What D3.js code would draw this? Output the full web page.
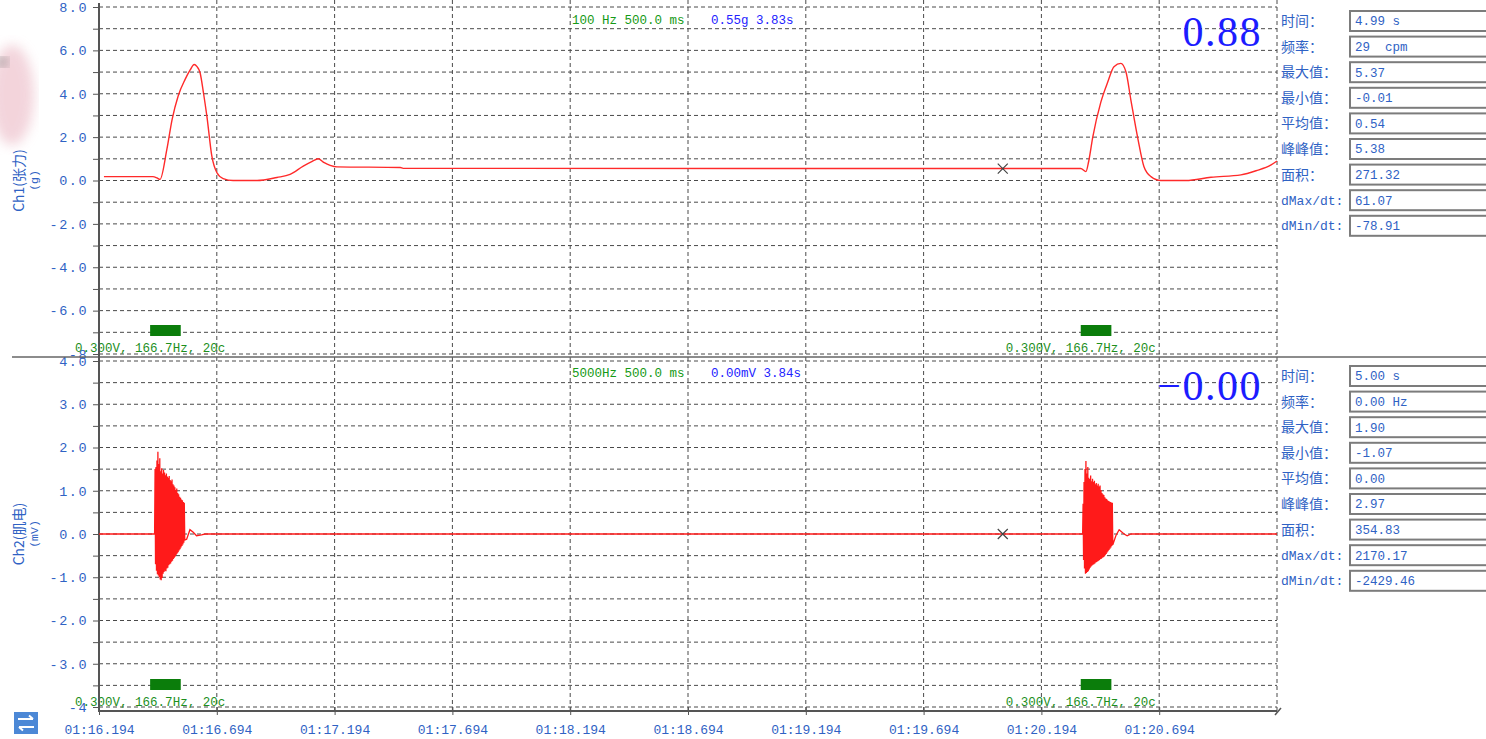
<!DOCTYPE html>
<html>
<head>
<meta charset="utf-8">
<script src="https://cdn.jsdelivr.net/npm/d3@7"></script>
<style>
  body { margin: 0; background: #fff; }
  svg { display: block; }
</style>
</head>
<body>
<div id="chart"></div>
<script>
// time axis, seconds after 01:16.194
var timeTicks = [0, 0.5, 1, 1.5, 2, 2.5, 3, 3.5, 4, 4.5];
var timeLabels = ["01:16.194", "01:16.694", "01:17.194", "01:17.694", "01:18.194",
                  "01:18.694", "01:19.194", "01:19.694", "01:20.194", "01:20.694"];

var ch1Ticks = [8, 6, 4, 2, 0, -2, -4, -6, -8];
var ch1TickLabels = ["8.0", "6.0", "4.0", "2.0", "0.0", "-2.0", "-4.0", "-6.0", "-8"];
var ch2Ticks = [4, 3, 2, 1, 0, -1, -2, -3, -4];
var ch2TickLabels = ["4.0", "3.0", "2.0", "1.0", "0.0", "-1.0", "-2.0", "-3.0", "-4"];

// Ch1 force (g)
var forceTime = [0.021, 0.229, 0.246, 0.259, 0.288, 0.310, 0.336, 0.365, 0.387, 0.404, 0.416, 0.429,
                 0.444, 0.458, 0.479, 0.500, 0.527, 0.569, 0.671, 0.755, 0.811, 0.867, 0.905, 0.930,
                 0.956, 0.981, 1.010, 1.279, 1.291, 4.167, 4.189, 4.201, 4.218, 4.252, 4.282, 4.308,
                 4.337, 4.359, 4.380, 4.410, 4.435, 4.465, 4.507, 4.613, 4.720, 4.847, 4.911, 4.975, 5.0];
var forceValue = [0.18, 0.18, 0.12, 0.05, 1.43, 2.8, 3.9, 4.65, 5.1, 5.35, 5.25, 4.97,
                  4.0, 2.96, 1.12, 0.37, 0.09, 0.0, 0.0, 0.14, 0.28, 0.66, 0.88, 1.0,
                  0.82, 0.70, 0.63, 0.60, 0.56, 0.55, 0.41, 0.9, 2.0, 3.6, 4.55, 5.25,
                  5.4, 5.0, 3.7, 1.9, 0.65, 0.18, 0.0, 0.0, 0.15, 0.26, 0.45, 0.72, 0.9];

// Ch2 EMG (mV): quiet baseline + after-ringing
var emgQuietTime = [0, 0.236, 0.372, 0.386, 0.400, 0.414, 0.435, 0.450,
                    4.175, 4.316, 4.330, 4.351, 4.364, 4.380, 5.0];
var emgQuietValue = [0, 0, -0.12, 0.10, 0.04, -0.04, -0.02, 0,
                     0, -0.04, 0.10, 0, -0.04, 0, 0];

// EMG bursts: peaks and troughs, one pair every 4 ms
var burstStart = [0.238, 4.177];
var burstHigh1 = [1.50, 1.55, 1.70, 1.90, 1.62, 1.75, 1.45, 1.52, 1.40, 1.48, 1.42, 1.36, 1.40, 1.33, 1.30, 1.34,
                  1.25, 1.22, 1.26, 1.15, 1.12, 1.08, 1.02, 1.05, 0.95, 0.92, 0.86, 0.84, 0.80, 0.78, 0.74, 0.72];
var burstLow1 = [-0.70, -0.85, -0.93, -0.96, -1.00, -1.05, -1.07, -1.02, -0.92, -0.88, -0.85, -0.86, -0.80, -0.78, -0.72, -0.70,
                 -0.68, -0.64, -0.62, -0.58, -0.55, -0.52, -0.48, -0.45, -0.42, -0.38, -0.35, -0.31, -0.28, -0.24, -0.20, -0.14];
var burstHigh2 = [0.70, 1.20, 1.50, 1.69, 1.40, 1.55, 1.30, 1.27, 1.35, 1.22, 1.28, 1.20, 1.23, 1.15, 1.18, 1.12,
                  1.16, 1.10, 1.12, 1.02, 0.95, 0.92, 0.90, 0.85, 0.82, 0.81, 0.78, 0.76, 0.75, 0.74, 0.73, 0.72];
var burstLow2 = [-0.60, -0.80, -0.92, -0.90, -0.88, -0.86, -0.82, -0.78, -0.75, -0.73, -0.71, -0.70, -0.68, -0.66, -0.65, -0.63,
                 -0.62, -0.60, -0.58, -0.57, -0.55, -0.54, -0.52, -0.49, -0.46, -0.43, -0.40, -0.37, -0.34, -0.31, -0.28, -0.25];

var stimTime = [0.217, 4.167];
var stimLength = 0.13;
var stimLabel = "0.300V, 166.7Hz, 20c";
var cursorTime = 3.836;
var cursorValues = [0.55, 0];

var statNames = ["时间：", "频率：", "最大值：", "最小值：", "平均值：", "峰峰值：", "面积：", "dMax/dt:", "dMin/dt:"];
var ch1StatValues = ["4.99 s", "29  cpm", "5.37", "-0.01", "0.54", "5.38", "271.32", "61.07", "-78.91"];
var ch2StatValues = ["5.00 s", "0.00 Hz", "1.90", "-1.07", "0.00", "2.97", "354.83", "2170.17", "-2429.46"];

var ch1Header = ["100 Hz 500.0 ms", "0.55g 3.83s"];
var ch2Header = ["5000Hz 500.0 ms", "0.00mV 3.84s"];
var bigValues = ["0.88", "\u22120.00"];

var width = 1486, height = 739;
var mono = "'Liberation Mono', 'DejaVu Sans Mono', monospace";
var cjk = "'Noto Sans CJK SC', sans-serif";
var blue = "#2f62c4";

var svg = d3.select("#chart").append("svg")
  .attr("width", width)
  .attr("height", height)
  .style("background", "#fff");

// smudge in top-left corner of the screenshot
var defs = svg.append("defs");
defs.append("filter").attr("id", "blur").append("feGaussianBlur").attr("stdDeviation", 6);
svg.append("ellipse").attr("cx", 12).attr("cy", 95).attr("rx", 22).attr("ry", 50)
  .attr("fill", "#eec3cd").attr("opacity", 0.7).attr("filter", "url(#blur)");
svg.append("ellipse").attr("cx", 2).attr("cy", 62).attr("rx", 6).attr("ry", 5)
  .attr("fill", "#555").attr("opacity", 0.6).attr("filter", "url(#blur)");

var x = d3.scaleLinear().domain([0, 5]).range([99, 1277]);

var panels = [
  { y: d3.scaleLinear().domain([-8, 8]).range([354, 7]), step: 1, ticks: ch1Ticks, labels: ch1TickLabels,
    title: "Ch1(张力)", unit: "(g)", top: 0, bottom: 357, header: ch1Header, big: bigValues[0],
    stats: ch1StatValues, statTop: 10, stimY: 325, stimTextY: 352 },
  { y: d3.scaleLinear().domain([-4, 4]).range([707, 361]), step: 0.5, ticks: ch2Ticks, labels: ch2TickLabels,
    title: "Ch2(肌电)", unit: "(mV)", top: 357, bottom: 711, header: ch2Header, big: bigValues[1],
    stats: ch2StatValues, statTop: 365, stimY: 679, stimTextY: 706 }
];

panels.forEach(function(p, pi) {
  var lo = p.y.domain()[0], hi = p.y.domain()[1];
  var grid = d3.range(lo, hi + p.step / 2, p.step);

  // horizontal dashed grid
  svg.append("g").selectAll("line").data(grid).enter().append("line")
    .attr("x1", 99).attr("x2", x(5))
    .attr("y1", function(d) { return p.y(d); })
    .attr("y2", function(d) { return p.y(d); })
    .attr("stroke", "#4a4a4a").attr("stroke-width", 1).attr("stroke-dasharray", "4,3");

  // vertical dashed grid
  svg.append("g").selectAll("line").data(timeTicks.slice(1).concat([5])).enter().append("line")
    .attr("x1", function(d) { return x(d); }).attr("x2", function(d) { return x(d); })
    .attr("y1", p.top).attr("y2", p.bottom)
    .attr("stroke", "#4a4a4a").attr("stroke-width", 1).attr("stroke-dasharray", "4,3");

  // y axis
  var yAxis = d3.axisLeft(p.y)
    .tickValues(grid)
    .tickSize(6)
    .tickPadding(5)
    .tickFormat(function(d) {
      var i = p.ticks.indexOf(d);
      return i >= 0 ? p.labels[i] : "";
    });
  var ya = svg.append("g").attr("transform", "translate(99,0)").call(yAxis);
  ya.select(".domain").remove();
  ya.selectAll(".tick line").attr("stroke", "#555");
  ya.selectAll(".tick text")
    .attr("fill", blue)
    .style("font-family", mono)
    .style("font-size", "13.5px")
    .style("letter-spacing", "1.5px");

  // channel title
  var tg = svg.append("g").attr("transform", "translate(19," + p.y(0) + ") rotate(-90)");
  tg.append("text").attr("text-anchor", "middle").attr("dy", "0.35em")
    .attr("fill", blue).style("font-family", cjk).style("font-size", "14px").text(p.title);
  tg.append("text").attr("text-anchor", "middle").attr("y", 15).attr("dy", "0.35em")
    .attr("fill", blue).style("font-family", mono).style("font-size", "11.5px").text(p.unit);

  // header
  svg.append("text").attr("x", 572).attr("y", p.top + (pi ? 16 : 20)).attr("dy", "0.35em")
    .attr("fill", "#169a16").style("font-family", mono).style("font-size", "12.5px")
    .attr("xml:space", "preserve").text(p.header[0]);
  svg.append("text").attr("x", 711).attr("y", p.top + (pi ? 16 : 20)).attr("dy", "0.35em")
    .attr("fill", "#2222ff").style("font-family", mono).style("font-size", "12.5px")
    .text(p.header[1]);

  // big readout
  svg.append("text").attr("x", 1262).attr("y", p.top + (pi ? 43 : 46))
    .attr("text-anchor", "end")
    .attr("fill", "#1c1cff").style("font-family", "'Liberation Serif', serif")
    .style("font-size", "42px").style("letter-spacing", "1.5px").text(p.big);

  // stimulus markers
  svg.append("g").selectAll("rect").data(stimTime).enter().append("rect")
    .attr("x", function(d) { return x(d); })
    .attr("width", function(d) { return x(d + stimLength) - x(d); })
    .attr("y", p.stimY).attr("height", 11)
    .attr("fill", "#0b7d0b");
  svg.append("g").selectAll("text").data(stimTime).enter().append("text")
    .attr("x", function(d) { return x(d); })
    .attr("y", p.stimTextY)
    .attr("text-anchor", "middle")
    .attr("fill", "#1d8f1d").style("font-family", mono).style("font-size", "12.5px")
    .text(stimLabel);

  // stats panel
  var rows = svg.append("g").selectAll("g").data(statNames).enter().append("g")
    .attr("transform", function(d, i) { return "translate(0," + (p.statTop + i * 25.6) + ")"; });
  rows.append("text").attr("x", 1281).attr("y", 11).attr("dy", "0.35em")
    .attr("fill", blue)
    .style("font-family", function(d) { return /^d/.test(d) ? mono : cjk; })
    .style("font-size", function(d) { return /^d/.test(d) ? "13px" : "14px"; })
    .text(function(d) { return d; });
  rows.append("rect").attr("x", 1350).attr("y", 1).attr("width", 140).attr("height", 20)
    .attr("fill", "#fff").attr("stroke", "#7c7c7c").attr("stroke-width", 2);
  rows.append("text").attr("x", 1355).attr("y", 11).attr("dy", "0.35em")
    .attr("fill", blue).style("font-family", mono).style("font-size", "12.5px")
    .attr("xml:space", "preserve")
    .text(function(d, i) { return p.stats[i]; });
});

// separator and axes lines
svg.append("line").attr("x1", 12).attr("x2", width).attr("y1", 357).attr("y2", 357)
  .attr("stroke", "#666").attr("stroke-width", 1.5);
svg.append("line").attr("x1", 99).attr("x2", 99).attr("y1", 3).attr("y2", 712)
  .attr("stroke", "#555").attr("stroke-width", 2);

var xAxis = d3.axisBottom(x)
  .tickValues(timeTicks)
  .tickSize(4)
  .tickPadding(10)
  .tickFormat(function(d, i) { return timeLabels[i]; });
var xa = svg.append("g").attr("transform", "translate(0,711)").call(xAxis);
xa.select(".domain").remove();
xa.selectAll(".tick line").attr("y1", -4).attr("stroke", "#555");
xa.selectAll(".tick text")
  .attr("fill", blue)
  .style("font-family", mono)
  .style("font-size", "13px");
svg.append("line").attr("x1", 99).attr("x2", x(5)).attr("y1", 711).attr("y2", 711)
  .attr("stroke", "#555").attr("stroke-width", 2);
svg.append("line").attr("x1", x(5) - 2).attr("x2", x(5) + 4).attr("y1", 715).attr("y2", 708)
  .attr("stroke", "#555").attr("stroke-width", 1.5);

// Ch1 trace
var forceData = forceTime.map(function(t, i) { return [t, forceValue[i]]; });
var forceLine = d3.line()
  .x(function(d) { return x(d[0]); })
  .y(function(d) { return panels[0].y(d[1]); })
  .curve(d3.curveMonotoneX);
svg.append("path").datum(forceData)
  .attr("d", forceLine)
  .attr("fill", "none").attr("stroke", "#ff2a2a").attr("stroke-width", 1.4);

// Ch2 trace
var emgData = emgQuietTime.map(function(t, i) { return [t, emgQuietValue[i]]; });
[[burstHigh1, burstLow1], [burstHigh2, burstLow2]].forEach(function(b, bi) {
  b[0].forEach(function(v, i) {
    var t = burstStart[bi] + i * 0.004;
    emgData.push([t, v]);
    emgData.push([t + 0.002, b[1][i]]);
  });
});
emgData.sort(function(a, b) { return a[0] - b[0]; });
var emgLine = d3.line()
  .x(function(d) { return x(d[0]); })
  .y(function(d) { return panels[1].y(d[1]); });
svg.append("path").datum(emgData)
  .attr("d", emgLine)
  .attr("fill", "none").attr("stroke", "#ff1a1a").attr("stroke-width", 1.3);

// cursor crosses
cursorValues.forEach(function(v, i) {
  var cx = x(cursorTime), cy = panels[i].y(v);
  svg.append("path")
    .attr("d", "M" + (cx - 5) + "," + (cy - 5) + "L" + (cx + 5) + "," + (cy + 5) +
               "M" + (cx - 5) + "," + (cy + 5) + "L" + (cx + 5) + "," + (cy - 5))
    .attr("stroke", "#444").attr("stroke-width", 1.2);
});

// swap icon bottom-left
svg.append("rect").attr("x", 14).attr("y", 712).attr("width", 24).attr("height", 22)
  .attr("fill", "#4c88d6");
svg.append("path")
  .attr("d", "M18,719H33M29,715.5L33,719M34,727H19M23,730.5L19,727")
  .attr("stroke", "#fff").attr("stroke-width", 2).attr("fill", "none");
</script>
</body>
</html>
